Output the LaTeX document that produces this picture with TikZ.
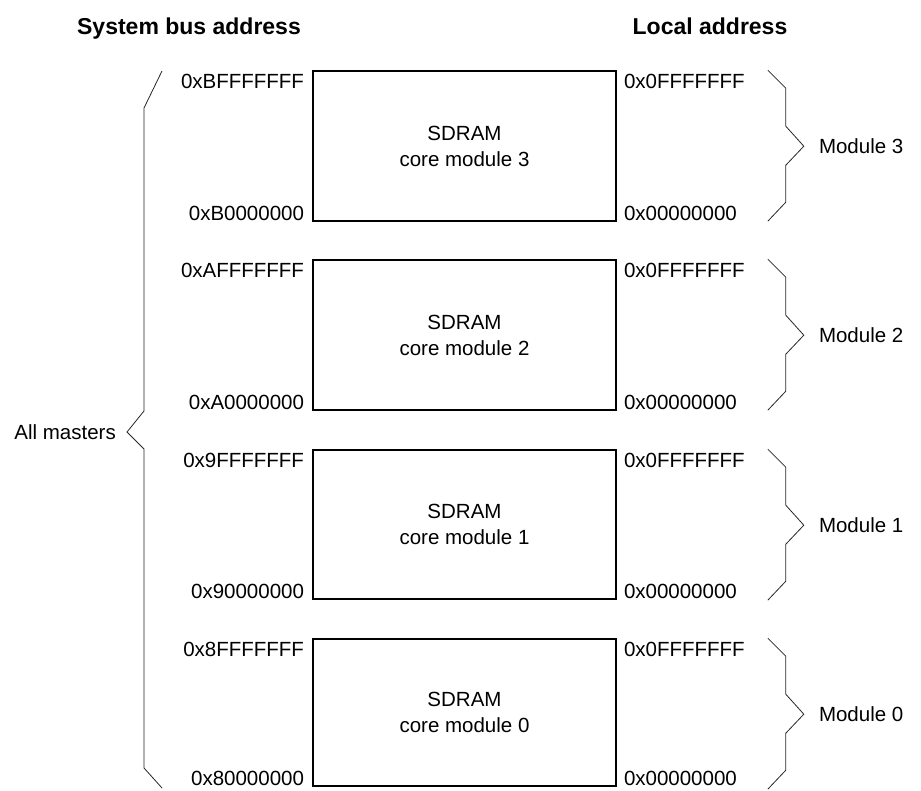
\documentclass[tikz,border=0pt]{standalone}
\usepackage{fontspec}
\setmainfont{Liberation Sans}
\usetikzlibrary{calc}

\begin{document}
\begin{tikzpicture}[x=1pt,y=-1pt]
\tikzstyle{every node}=[inner sep=0pt,font=\fontsize{20.5}{26}\selectfont]
\tikzstyle{sdram}=[draw,line width=1.6pt,minimum width=303pt,align=center]
\tikzstyle{heading}=[anchor=base,font=\fontsize{23}{28}\selectfont\bfseries]
\tikzstyle{brace}=[line width=0.8pt,black!85]
\useasboundingbox (0,0) rectangle (921,790);
% column headings
\node[heading] (sysbus) at (189,34) {System bus address};
\node[heading] (local) at (710,34) {Local address};
% one block per core module
\foreach \i/\y/\hgt/\h in {3/71/150/B,2/260/150/A,1/450/149/9,0/639/147/8} {
  \node[sdram,minimum height=\hgt pt] (M_\i) at (464.5,\y+\hgt/2) {SDRAM\\core module \i};
  \node[anchor=east] (S_\i_hi) at ($(M_\i.north west)+(-8,11)$) {0x\h FFFFFFF};
  \node[anchor=east] (S_\i_lo) at ($(M_\i.south west)+(-8,-8.5)$) {0x\h 0000000};
  \node[anchor=west] (L_\i_hi) at ($(M_\i.north east)+(7,11)$) {0x0FFFFFFF};
  \node[anchor=west] (L_\i_lo) at ($(M_\i.south east)+(7,-8.5)$) {0x00000000};
  \draw[brace] ($(M_\i.north east)+(151,0)$) -- ++(18,18) -- ++(0,38)
    -- ++(18,20) coordinate (T_\i) -- ++(-18,19) -- ++(0,37) -- ++(-18,19);
  \node[anchor=west] (mod_\i) at ($(T_\i)+(15,0)$) {Module \i};
}
% brace over the whole range
\draw[brace] (162,71) -- (144,108) -- (144,411) -- (127,432) coordinate (tip)
  -- (144,449) -- (144,768) -- (162,788);
\node[anchor=east] (all) at ($(tip)+(-11,0)$) {All masters};
\end{tikzpicture}
\end{document}
